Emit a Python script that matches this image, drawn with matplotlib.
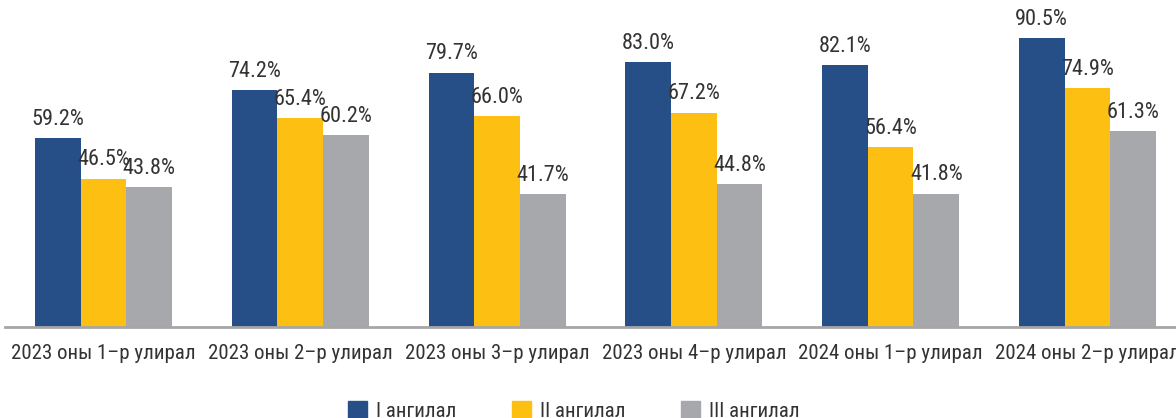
import matplotlib
matplotlib.use("Agg")
from matplotlib import pyplot as plt
from matplotlib.patches import Patch
import numpy as np

plt.rcParams['font.family'] = ['Roboto Condensed', 'PT Sans Narrow', 'Fira Sans Condensed',
                               'DejaVu Sans']

quarters = ['2023 оны 1–р улирал', '2023 оны 2–р улирал', '2023 оны 3–р улирал',
            '2023 оны 4–р улирал', '2024 оны 1–р улирал', '2024 оны 2–р улирал']
series_names = ['I ангилал', 'II ангилал', 'III ангилал']
cat1 = [59.2, 74.2, 79.7, 83.0, 82.1, 90.5]
cat2 = [46.5, 65.4, 66.0, 67.2, 56.4, 74.9]
cat3 = [43.8, 60.2, 41.7, 44.8, 41.8, 61.3]
colors = ['#264F87', '#FDBF12', '#A7A8AB']

fig = plt.figure(figsize=(11.76, 4.18), dpi=100)
ax = fig.add_axes([5 / 1176, 91 / 418, 1 - 5 / 1176, 327 / 418])

x = np.arange(len(quarters))
w = 0.232
for k, vals in enumerate([cat1, cat2, cat3]):
    pos = x + (k - 1) * w
    ax.bar(pos, vals, width=w, color=colors[k])
    for p, v in zip(pos, vals):
        ax.text(p, v + 2.6, f'{v:.1f}%', ha='center', va='bottom',
                fontsize=16, color='#333333')

ax.set_xlim(-0.5, 5.45)
ax.set_ylim(0, 102.5)
ax.set_xticks(x)
ax.set_xticklabels(quarters, fontsize=15, color='#333333')
ax.tick_params(axis='x', length=0, pad=12)
ax.set_yticks([])
for s in ['top', 'right', 'left']:
    ax.spines[s].set_visible(False)
ax.spines['bottom'].set_color('#A6A6A6')
ax.spines['bottom'].set_linewidth(2)

handles = [Patch(color=c, label=n) for c, n in zip(colors, series_names)]
fig.legend(handles=handles, loc='center', bbox_to_anchor=(0.488, 0.017), ncol=3,
           frameon=False, fontsize=15, handlelength=0.9, handleheight=0.9,
           handletextpad=0.45, columnspacing=2.65, labelcolor='#333333')

fig.savefig('out.png', dpi=100)
